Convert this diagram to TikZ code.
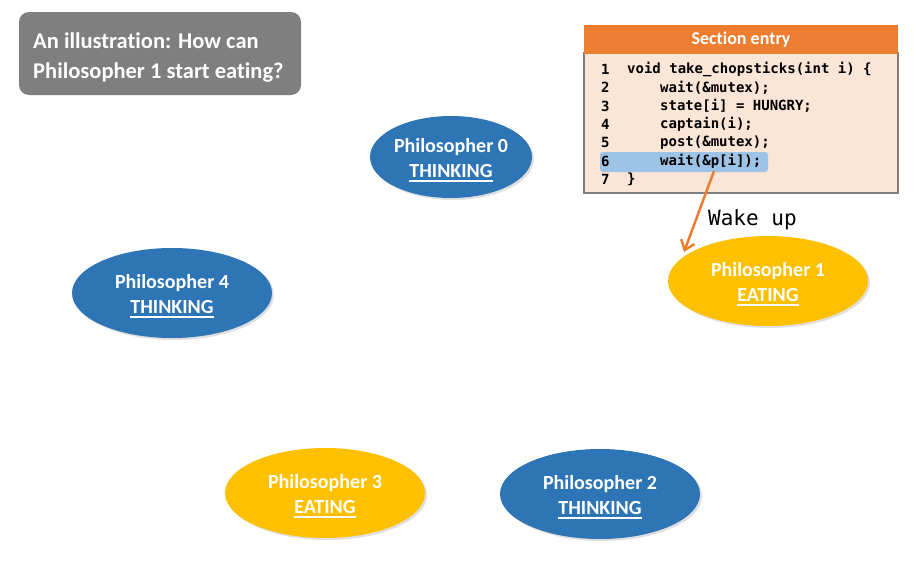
\documentclass[tikz,border=0pt]{standalone}
\usepackage{fontspec}
\setmainfont{Carlito}[Ligatures=NoCommon]
\setmonofont{DejaVu Sans Mono}
\usetikzlibrary{shapes.geometric,arrows.meta,shadows}
\definecolor{pblue}{HTML}{2E75B6}
\definecolor{pyellow}{HTML}{FFC000}
\definecolor{tgray}{HTML}{7F7F7F}
\definecolor{sorange}{HTML}{ED7D31}
\definecolor{sbody}{HTML}{FBE5D6}
\definecolor{hlblue}{HTML}{9DC3E6}
\newcommand\myul[1]{\setbox0=\hbox{#1}\rlap{\rule[-4pt]{\wd0}{1.6pt}}\box0}
\tikzset{
  phil/.style={ellipse, inner sep=0pt, minimum width=200pt, minimum height=90pt,
    drop shadow={opacity=0.25, shadow xshift=2pt, shadow yshift=-2pt}},
  philtext/.style={text=white, align=center, inner sep=0pt, font=\fontsize{20}{25}\selectfont\bfseries},
  codeline/.style={anchor=west, inner sep=0pt, font=\fontsize{14}{16}\selectfont\ttfamily\bfseries},
}
\begin{document}
\begin{tikzpicture}[x=1pt,y=-1pt]
\useasboundingbox (0,0) rectangle (918,573);
% title
\node[fill=tgray, rounded corners=10pt, minimum width=282pt, minimum height=83pt, inner sep=0pt] (titlebox) at (160,53.5) {};
\node[anchor=west, text=white, align=left, font=\fontsize{22.5}{30}\selectfont\bfseries, inner sep=0pt] (title) at (33,58) {An illustration: How can\\Philosopher 1 start eating?};
% philosophers
\node[phil, fill=pblue, minimum width=162pt, minimum height=82pt] (p0) at (451,157) {};
\node[phil, fill=pyellow] (p1) at (768,281) {};
\node[phil, fill=pblue] (p4) at (172,293) {};
\node[phil, fill=pyellow] (p3) at (325,493) {};
\node[phil, fill=pblue] (p2) at (600,494) {};
\node[philtext] (p0t) at ([yshift=-3pt]p0.center) {Philosopher 0\\\myul{THINKING}};
\node[philtext] (p1t) at ([yshift=-3pt]p1.center) {Philosopher 1\\\myul{EATING}};
\node[philtext] (p4t) at ([yshift=-3pt]p4.center) {Philosopher 4\\\myul{THINKING}};
\node[philtext] (p3t) at ([yshift=-3pt]p3.center) {Philosopher 3\\\myul{EATING}};
\node[philtext] (p2t) at ([yshift=-3pt]p2.center) {Philosopher 2\\\myul{THINKING}};
% section entry box
\node[draw=tgray, line width=1.5pt, fill=sbody, minimum width=314pt, minimum height=140pt, inner sep=0pt] (body) at (741,123) {};
\node[fill=sorange, minimum width=314pt, minimum height=29pt, inner sep=0pt, text=white, font=\fontsize{18}{20}\selectfont\bfseries] (head) at (741,39.5) {Section entry};
\node[fill=hlblue, rounded corners=3pt, minimum width=168pt, minimum height=20pt, inner sep=0pt] (hl) at (684,162) {};
\node[codeline] (n1) at (601,69.5) {1};
\node[codeline] (n2) at (601,87.8) {2};
\node[codeline] (n3) at (601,106.1) {3};
\node[codeline] (n4) at (601,124.4) {4};
\node[codeline] (n5) at (601,142.7) {5};
\node[codeline] (n6) at (601,161) {6};
\node[codeline] (n7) at (601,179.3) {7};
\node[codeline] (c1) at (627,69.5) {void take\_chopsticks(int i) \{};
\node[codeline] (c2) at (660,87.8) {wait(\&mutex);};
\node[codeline] (c3) at (660,106.1) {state[i] = HUNGRY;};
\node[codeline] (c4) at (660,124.4) {captain(i);};
\node[codeline] (c5) at (660,142.7) {post(\&mutex);};
\node[codeline] (c6) at (660,161) {wait(\&p[i]);};
\node[codeline] (c7) at (627,179.3) {\}};
% arrow
\coordinate (astart) at (714,171);
\coordinate (aend) at (684,252);
\draw[sorange, line width=2.5pt, -{Straight Barb[length=9pt,width=14pt,line width=2.5pt]}] (astart) -- (aend);
\node[anchor=west, inner sep=0pt, font=\fontsize{21}{22}\selectfont\ttfamily] (wake) at (708,220) {Wake up};
\end{tikzpicture}
\end{document}
